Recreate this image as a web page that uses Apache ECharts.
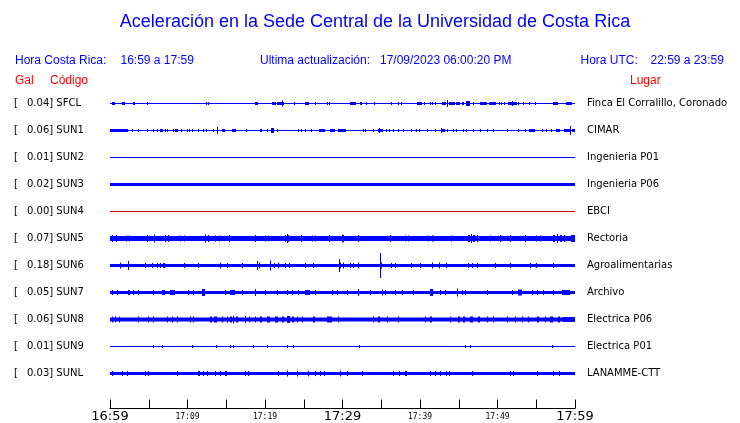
<!DOCTYPE html>
<html>
<head>
<meta charset="utf-8">
<script src="https://cdn.jsdelivr.net/npm/echarts@6/dist/echarts.min.js"></script>
<style>html,body{margin:0;padding:0;background:#fff;}#c{width:740px;height:423px;}</style>
</head>
<body>
<div id="c"></div>
<script>
// ---------- data ----------
const CODES = ['SFCL','SUN1','SUN2','SUN3','SUN4','SUN5','SUN6','SUN7','SUN8','SUN9','SUNL'];
const GAL = ['0.04','0.06','0.01','0.02','0.00','0.07','0.18','0.05','0.06','0.01','0.03'];
const PLACES = ['Finca El Corralillo, Coronado','CIMAR','Ingenieria P01','Ingenieria P06','EBCI','Rectoria','Agroalimentarias','Archivo','Electrica P06','Electrica P01','LANAMME-CTT'];
// background noise half-amplitude of each trace (trace units; rows are 27 units apart)
const BASE_AMP = [0.5,0.5,0.5,1.5,0.5,2.5,1.5,1.5,2,0.5,1.5];
const TRACE_COLORS = ['#0000ff','#0000ff','#0000ff','#0000ff','#dd0000','#0000ff','#0000ff','#0000ff','#0000ff','#0000ff','#0000ff'];
// minutes after 16:59
const TICK_LABELS = ['16:59','','17:09','','17:19','','17:29','','17:39','','17:49','','17:59'];
const BIG_TICKS = ['16:59','17:29','17:59'];
// bursts: [start minute, end minute, half-amplitude]
const BURSTS_SFCL = [[0.3,0.65,1.5],[1.5,1.9,1.5],[3.0,3.2,1.5],[4.8,4.8,1.5],[12.4,12.4,1.5],[12.7,12.7,1.5],[18.7,19.1,1.5],[20.9,21.4,1.5],[21.6,22.4,1.5],[22.15,22.15,3],[23.8,23.9,1.5],[25.2,25.7,1.5],[26.5,26.5,1.5],[27.95,27.95,1.5],[28.3,28.3,1.5],[31.0,31.8,1.5],[32.2,32.5,1.5],[33.0,33.0,1.5],[34.1,34.1,1.5],[36.3,36.3,1.5],[37.2,37.2,1.5],[37.5,37.5,1.5],[39.65,40.3,1.5],[40.5,40.5,1.5],[41.3,41.3,1.5],[41.5,41.5,1.5],[41.9,41.9,1.5],[42.9,43.3,1.5],[43.5,43.5,3.5],[43.7,44.5,1.5],[44.7,45.2,1.5],[45.4,45.7,1.5],[45.9,46.45,2.5],[46.9,46.9,1.5],[47.8,48.6,1.5],[48.9,49.8,1.5],[50.2,50.2,1.5],[50.5,50.5,1.5],[50.8,50.8,1.5],[51.3,52.5,1.5],[51.9,51.9,2.5],[52.7,52.7,1.5],[53.3,53.3,1.5],[54.0,54.0,1.5],[54.8,54.8,1.5],[57.2,57.8,1.5],[58.8,59.6,1.5]];
const BURSTS_SUN1 = [[0,2.3,1.5],[2.9,2.9,1.5],[3.66,3.66,1.5],[4.82,4.82,1.5],[5.5,5.5,1.5],[6.02,6.02,1.5],[6.45,6.88,1.5],[7.1,7.1,1.5],[7.4,7.4,1.5],[8.1,8.1,1.5],[8.4,8.73,1.5],[9.1,9.1,1.5],[9.9,9.9,1.5],[10.2,10.2,1.5],[10.6,10.6,1.5],[11.4,11.4,1.5],[12.0,12.0,1.5],[12.4,12.4,1.5],[13.3,13.3,1.5],[13.85,13.85,3.5],[14.4,14.9,1.5],[15.8,16.2,1.5],[17.5,17.5,1.5],[19.3,19.6,1.5],[20.3,20.3,1.5],[20.75,21.1,2.5],[21.6,21.6,1.5],[24.2,24.2,1.5],[24.6,24.6,1.5],[25.1,25.1,1.5],[25.9,25.9,1.5],[27.0,27.75,1.5],[28.4,29.0,1.5],[29.4,30.5,1.5],[32.6,32.6,1.5],[32.9,32.9,1.5],[33.9,33.9,1.5],[34.6,35.2,1.5],[34.7,34.7,2.5],[35.6,35.6,1.5],[36.0,36.0,1.5],[36.5,36.5,1.5],[37.2,37.2,1.5],[37.85,37.85,1.5],[38.8,38.8,1.5],[39.5,39.5,1.5],[39.9,39.9,1.5],[40.9,40.9,1.5],[41.9,41.9,1.5],[42.7,43.2,1.5],[42.7,42.7,2.5],[43.5,43.5,1.5],[44.2,44.2,1.5],[44.7,44.7,1.5],[45.6,45.6,1.5],[45.9,45.9,1.5],[46.8,46.8,1.5],[47.7,47.7,1.5],[48.7,48.7,1.5],[49.4,49.4,1.5],[51.2,51.2,1.5],[52.7,52.7,1.5],[53.5,53.5,1.5],[54.1,54.8,1.5],[55.7,55.7,1.5],[56.2,56.2,1.5],[56.9,56.9,1.5],[57.6,58.0,1.5],[58.6,59.3,1.5],[59.3,59.3,4.5],[59.6,60,1.5]];
const BURSTS_SUN2 = [];
const BURSTS_SUN3 = [];
const BURSTS_SUN4 = [];
const BURSTS_SUN5 = [[0.22,0.22,3.5],[0.73,0.73,3.5],[2.0,2.1,3],[2.5,2.6,3],[4.73,4.73,3.5],[5.72,5.72,4],[7.1,7.1,3.5],[7.5,7.5,3.5],[9.0,9.1,3],[9.6,9.7,3],[12.3,12.4,4],[12.6,12.7,3.5],[13.5,13.6,3],[14.1,14.2,3],[15.3,15.3,3.5],[18.7,18.7,3.5],[20.0,20.1,3],[20.4,20.4,3],[22.6,22.7,3.5],[22.8,22.8,4.5],[23.0,23.0,3.5],[24.7,24.7,3.5],[26.0,26.1,3],[26.5,26.6,3],[28.2,28.2,3.5],[29.9,29.9,4],[30.1,30.1,3.5],[32.0,32.0,3.5],[36.1,36.1,3.5],[38.0,38.1,3],[38.5,38.6,3],[41.0,41.1,3],[41.6,41.8,3],[44.0,44.1,3],[46.2,46.4,3.5],[46.6,46.6,4.5],[46.9,47.1,3.5],[47.4,47.5,3.5],[49.0,49.1,3],[50.3,50.3,3.5],[51.6,51.6,3.5],[53.6,53.6,3.5],[55.0,55.1,3],[55.5,55.6,3],[57.2,57.4,3.5],[57.7,57.8,4.5],[58.1,58.3,3.5],[58.6,58.7,3.5],[59.5,60,3.5]];
const BURSTS_SUN6 = [[1.29,1.29,3],[2.37,2.37,4.5],[4.5,4.5,2.5],[5.4,5.4,2.5],[6.0,6.0,2.5],[6.45,6.6,2.5],[6.9,7.1,2.5],[9.5,9.5,2.5],[11.4,11.4,2.5],[14.2,14.2,3],[15.1,15.1,2.5],[17.0,17.0,2.5],[19.0,19.0,4.5],[19.2,19.2,3],[20.65,20.65,5],[21.2,21.2,2.5],[21.7,21.7,3],[22.6,22.7,2.5],[23.1,23.2,2.5],[25.2,25.2,2.5],[26.2,26.2,2.5],[29.5,29.5,6.5],[29.7,29.7,3],[30.0,30.0,3],[31.0,31.1,2.5],[31.3,31.4,2.5],[32.0,32.0,3],[34.84,34.84,12.5],[35.0,35.1,3],[36.3,36.3,2.5],[36.8,36.8,2.5],[38.9,38.9,2.5],[40.0,40.0,2.5],[41.6,41.6,3],[42.5,42.5,3],[43.4,43.4,2.5],[46.2,46.3,2.5],[46.7,46.8,2.5],[47.3,47.4,2.5],[49.7,49.7,2.5],[51.6,51.6,2.5],[54.2,54.2,2.5],[55.0,55.0,2.5],[57.2,57.2,2.5]];
const BURSTS_SUN7 = [[0.22,0.22,2.5],[0.86,0.86,2.5],[2.37,2.6,2.5],[3.01,3.01,2.5],[3.66,3.66,2.5],[5.59,5.59,2.5],[6.67,7.1,2.5],[7.74,8.39,2.5],[10.11,10.11,2.5],[10.75,10.75,2.5],[11.83,12.26,3.5],[14.84,14.84,2.5],[15.48,16.13,2.5],[16.99,16.99,2.5],[18.71,18.71,3.5],[20.0,20.0,2.5],[21.5,21.5,2.5],[22.8,22.8,2.5],[23.44,23.44,2.5],[24.3,24.3,2.5],[25.16,25.8,2.5],[26.45,26.45,2.5],[28.6,28.6,2.5],[29.25,29.25,2.5],[30.54,30.54,2.5],[32.05,32.05,3.5],[33.55,33.55,2.5],[35.06,35.06,3],[35.49,35.49,2.5],[36.78,36.78,2.5],[37.64,37.64,2.5],[39.14,39.14,2.5],[41.29,41.72,3.5],[42.58,42.58,2.5],[43.23,43.23,2.5],[44.73,44.73,4],[45.38,45.38,2.5],[45.81,45.81,2.5],[48.6,48.6,2.5],[51.83,51.83,2.5],[52.69,53.12,3],[54.41,54.41,2.5],[55.06,55.06,2.5],[55.92,55.92,2.5],[57.21,57.21,2.5],[58.28,59.36,2.5]];
const BURSTS_SUN8 = [[0.22,0.22,3],[0.65,0.65,3],[1.16,1.16,3],[3.66,3.66,3],[4.95,4.95,3],[5.59,5.59,3],[7.31,7.31,3],[7.96,7.96,3],[8.6,8.6,3],[10.32,10.45,3],[10.65,10.75,3],[12.9,13.1,3],[13.4,13.76,3],[14.41,14.41,3],[15.05,15.05,3],[15.48,15.7,3],[15.9,16.0,4],[16.3,16.56,3],[17.42,17.6,3.5],[17.9,18.06,3],[18.71,18.9,3],[19.3,19.57,3],[20.22,20.65,3],[21.29,21.72,3],[22.15,22.5,3],[22.8,23.2,3.5],[23.5,23.8,3],[24.1,24.3,3],[24.73,24.73,3],[26.23,26.45,3],[27.96,28.6,3],[29.46,29.46,3],[33.98,33.98,3],[34.63,34.84,3],[35.7,35.7,3],[37.21,37.21,3],[40.65,40.65,3],[41.29,41.51,3],[43.87,43.87,3],[44.95,45.2,3],[45.5,45.81,3],[46.45,46.88,3],[47.53,47.74,3],[48.6,48.82,3],[49.46,49.46,3],[51.19,51.19,3],[52.26,52.26,3],[53.12,53.12,3],[53.98,53.98,3],[55.06,55.4,3],[56.13,56.13,3],[56.78,57.21,3],[57.85,58.07,3],[58.5,60,2.5]];
const BURSTS_SUN9 = [[5.59,5.59,1.5],[6.75,6.75,1.5],[10.62,10.62,1.5],[13.68,13.68,1.5],[15.48,15.48,1.5],[15.91,15.91,1.5],[18.49,18.49,1.5],[20.22,20.22,1.5],[22.8,22.8,1.5],[23.66,23.66,1.5],[32.17,32.17,1.5],[45.81,45.81,1.5],[46.45,46.45,1.5],[57.0,57.0,1.5]];
const BURSTS_SUNL = [[0.22,0.22,2.5],[1.51,1.51,2.5],[2.15,2.15,2.5],[4.52,4.6,2.5],[4.85,4.95,2.5],[8.6,8.6,2.5],[11.4,11.6,2.5],[12.0,12.1,2.5],[12.5,12.69,2.5],[13.55,13.7,2.5],[14.2,14.3,2.5],[14.9,15.05,2.5],[17.42,17.5,2.5],[17.75,17.85,2.5],[21.72,21.72,2.5],[22.8,22.8,3],[24.09,24.09,3],[25.59,25.59,3],[26.45,26.6,2.5],[27.1,27.2,2.5],[27.6,27.74,2.5],[29.68,29.68,3],[30.54,30.54,2.5],[32.48,32.48,2.5],[36.56,36.7,2.5],[37.3,37.4,2.5],[38.1,38.28,2.5],[41.29,41.4,2.5],[41.9,42.0,2.5],[42.6,42.7,2.5],[43.3,43.4,2.5],[43.8,43.87,2.5],[46.67,46.67,2.5],[51.62,51.7,2.5],[51.95,52.05,2.5],[55.06,55.06,2.5],[57.21,57.3,2.5],[57.9,58.07,2.5]];
const BURSTS = [BURSTS_SFCL,BURSTS_SUN1,BURSTS_SUN2,BURSTS_SUN3,BURSTS_SUN4,BURSTS_SUN5,BURSTS_SUN6,BURSTS_SUN7,BURSTS_SUN8,BURSTS_SUN9,BURSTS_SUNL];

// ---------- layout ----------
const ROW = 27;               // trace units between rows
const NROWS = CODES.length;
const GRID_TOP = 90;
const BLUE = '#0000ff', RED = '#ff0000';

function rowCenter(i){ return ROW/2 + ROW*i; }

const chart = echarts.init(document.getElementById('c'), null, {renderer:'canvas'});

const series = CODES.map((code, i) => {
  const items = [[0, 60, BASE_AMP[i]]].concat(BURSTS[i]).map(b => [b[0], b[1], rowCenter(i), b[2]]);
  const color = TRACE_COLORS[i];
  return {
    type: 'custom', name: code, xAxisIndex: 0, yAxisIndex: 0,
    data: items, silent: true, animation: false, clip: false,
    encode: {x: [0, 1], y: 2},
    renderItem: function(params, api){
      const t0 = api.value(0), t1 = api.value(1), c = api.value(2), a = api.value(3);
      const p0 = api.coord([t0, c - a]);
      const p1 = api.coord([t1, c + a]);
      const x = Math.round(p0[0]);
      const w = Math.max(1, Math.round(p1[0]) - x);
      const y = Math.min(p0[1], p1[1]);
      const h = Math.abs(p1[1] - p0[1]);
      return {type: 'rect', shape: {x: x, y: y, width: w, height: h}, style: {fill: color}};
    }
  };
});

function txt(x, y, text, font, fill, align){
  return {type: 'text', x: x, y: y, silent: true,
    style: {text: text, font: font, fill: fill, align: align || 'left', verticalAlign: 'middle',
            textAlign: align || 'left', textVerticalAlign: 'middle'}};
}

const FONT_HDR = '12px "Liberation Sans", Arial, sans-serif';
const FONT_LBL = '10px "DejaVu Sans", sans-serif';
const graphics = [
  txt(375, 22, 'Aceleración en la Sede Central de la Universidad de Costa Rica', '18px "Liberation Sans", Arial, sans-serif', BLUE, 'center'),
  txt(15, 60.5, 'Hora Costa Rica:', FONT_HDR, BLUE),
  txt(120.5, 60.5, '16:59 a 17:59', FONT_HDR, BLUE),
  txt(260, 60.5, 'Ultima actualización:', FONT_HDR, BLUE),
  txt(380, 60.5, '17/09/2023 06:00:20 PM', FONT_HDR, BLUE),
  txt(580.5, 60.5, 'Hora UTC:', FONT_HDR, BLUE),
  txt(650.5, 60.5, '22:59 a 23:59', FONT_HDR, BLUE),
  txt(15, 81, 'Gal', FONT_HDR, RED),
  txt(50, 81, 'Código', FONT_HDR, RED),
  txt(630, 81, 'Lugar', FONT_HDR, RED)
];
CODES.forEach((code, i) => {
  const y = GRID_TOP + rowCenter(i);
  graphics.push(txt(14, y, '[', FONT_LBL, '#000'));
  graphics.push(txt(27, y, GAL[i] + '] ' + code, FONT_LBL, '#000'));
  graphics.push(txt(587, y, PLACES[i], FONT_LBL, '#000'));
});

const option = {
  backgroundColor: '#ffffff',
  animation: false,
  grid: [
    {left: 110, width: 465, top: GRID_TOP, height: ROW * NROWS},
    {left: 110, width: 465, top: 400, height: 9}
  ],
  xAxis: [
    {gridIndex: 0, type: 'value', min: 0, max: 60, show: false},
    {gridIndex: 1, type: 'value', min: 0, max: 60, interval: 5,
     axisLine: {show: true, lineStyle: {color: '#000', width: 1}},
     axisTick: {show: true, inside: true, length: 9, lineStyle: {color: '#000', width: 1}},
     splitLine: {show: false},
     axisLabel: {
       show: true, margin: 1, showMinLabel: true, showMaxLabel: true, hideOverlap: false,
       formatter: function(v){
         const lab = TICK_LABELS[Math.round(v / 5)] || '';
         if (!lab) return '';
         return BIG_TICKS.indexOf(lab) >= 0 ? '{big|' + lab + '}' : '{small|' + lab + '}';
       },
       rich: {
         big: {fontFamily: 'DejaVu Sans', fontSize: 13, lineHeight: 14, color: '#000'},
         small: {fontFamily: 'DejaVu Sans Mono', fontSize: 8, lineHeight: 14, color: '#000'}
       }
     }}
  ],
  yAxis: [
    {gridIndex: 0, type: 'value', min: 0, max: ROW * NROWS, inverse: true, show: false},
    {gridIndex: 1, type: 'value', min: 0, max: 1, show: false}
  ],
  series: series,
  graphic: graphics
};
chart.setOption(option);
</script>
</body>
</html>
